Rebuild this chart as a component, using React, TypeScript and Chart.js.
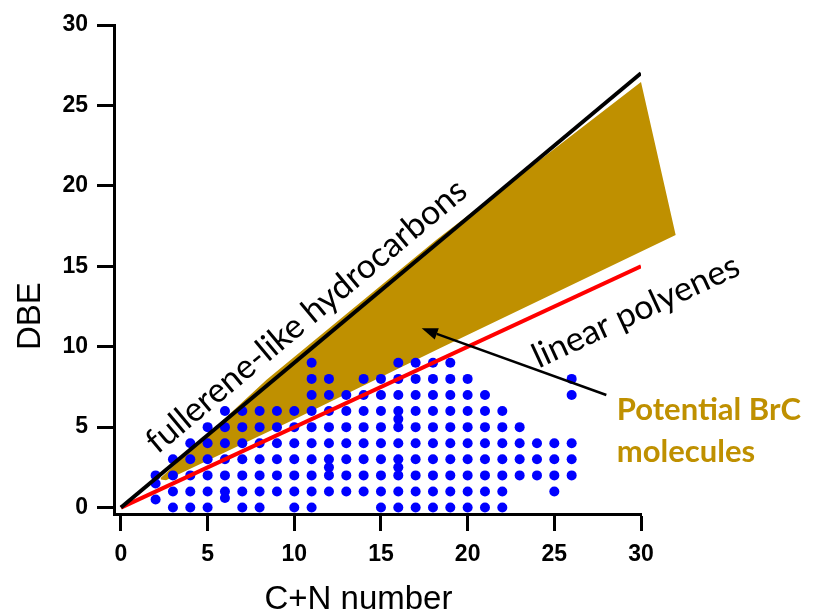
import React, { useEffect, useRef } from "react";
import { Chart, registerables } from "chart.js";

Chart.register(...registerables);

// ---- axes ----
const xTicks = [0, 5, 10, 15, 20, 25, 30];
const yTicks = [0, 5, 10, 15, 20, 25, 30];
const xTitle = "C+N number";
const yTitle = "DBE";
// axis-title centres, in data units along their axis
const xTitleAt = 13.7;
const yTitleAt = 11.9;

// ---- observed molecules: C+N numbers found at each DBE value ----
const dbe0 = [3, 4, 5, 7, 8, 10, 11, 15, 16, 17, 18, 19, 20, 21, 22];
const dbe1 = [3, 4, 5, 6, 7, 8, 9, 10, 11, 12, 13, 14, 15, 16, 17, 18, 19, 20, 21, 22, 25];
const dbe2 = [2, 3, 4, 5, 6, 7, 8, 9, 10, 11, 12, 13, 14, 15, 16, 17, 18, 19, 20, 21, 22, 23, 24, 25, 26];
const dbe3 = [3, 4, 5, 6, 7, 8, 9, 10, 11, 12, 13, 14, 15, 16, 17, 18, 19, 20, 21, 22, 23, 24, 25, 26];
const dbe4 = [4, 5, 6, 7, 8, 9, 10, 11, 12, 13, 14, 15, 16, 17, 18, 19, 20, 21, 22, 23, 24, 25, 26];
const dbe5 = [5, 6, 7, 8, 9, 10, 11, 12, 13, 14, 15, 16, 17, 18, 19, 20, 21, 22, 23];
const dbe6 = [6, 7, 8, 9, 10, 11, 12, 13, 14, 15, 16, 17, 18, 19, 20, 21, 22];
const dbe7 = [11, 12, 13, 14, 15, 16, 17, 18, 19, 20, 21, 26];
const dbe8 = [11, 12, 14, 15, 16, 17, 18, 19, 20, 26];
const dbe9 = [11, 16, 17, 18, 19];
const dbeRows = [dbe0, dbe1, dbe2, dbe3, dbe4, dbe5, dbe6, dbe7, dbe8, dbe9];
// non-integer DBE points
const extraC = [2, 2, 6, 12, 16, 16];
const extraD = [1.5, 0.5, 0.6, 2.5, 2.5, 5.5];

// ---- reference lines ----
const fullereneC = [0, 30];
const fullereneD = [0, 27];
const polyeneC = [0, 30];
const polyeneD = [0, 15];

// ---- shaded "potential BrC" region (polygon vertices) ----
const goldC = [2.3, 2.6, 8.4, 18.2, 30.0, 32.0, 18.4, 9.75, 2.6, 2.3];
const goldD = [1.85, 2.15, 7.95, 16.65, 26.45, 16.95, 9.9, 5.35, 1.7, 1.75];

// ---- annotations ----
const fullereneLabel = "fullerene-like hydrocarbons";
const fullereneLabelPos = [10.7, 11.9];
const polyeneLabel = "linear polyenes";
const polyeneLabelPos = [29.7, 12.2];
const brcLines = ["Potential BrC", "molecules"];
const brcPos = [28.6, 5.44];
const brcLineStep = 2.6;
const arrowTail = [28.0, 7.0];
const arrowTip = [17.35, 11.14];

const GOLD = "#BF9000";
const AXIS_FONT = '"Liberation Sans", Arial, sans-serif';
const NOTE_FONT = 'Lato, "Open Sans", sans-serif';

const overlayPlugin = {
  id: "overlay",
  beforeDatasetsDraw(chart: any) {
    const { ctx, scales } = chart;
    const x = scales.x;
    const y = scales.y;
    ctx.save();
    ctx.beginPath();
    goldC.forEach((c, i) => {
      const px = x.getPixelForValue(c);
      const py = y.getPixelForValue(goldD[i]);
      if (i === 0) ctx.moveTo(px, py);
      else ctx.lineTo(px, py);
    });
    ctx.closePath();
    ctx.fillStyle = GOLD;
    ctx.fill();
    ctx.restore();
  },
  afterDatasetsDraw(chart: any) {
    const { ctx, scales } = chart;
    const x = scales.x;
    const y = scales.y;
    const angleOf = (cs: number[], ds: number[]) =>
      Math.atan2(
        y.getPixelForValue(ds[1]) - y.getPixelForValue(ds[0]),
        x.getPixelForValue(cs[1]) - x.getPixelForValue(cs[0])
      );
    const rotated = (text: string, pos: number[], angle: number, font: string) => {
      ctx.save();
      ctx.translate(x.getPixelForValue(pos[0]), y.getPixelForValue(pos[1]));
      ctx.rotate(angle);
      ctx.font = font;
      ctx.fillStyle = "#000";
      ctx.textAlign = "center";
      ctx.textBaseline = "middle";
      ctx.fillText(text, 0, 0);
      ctx.restore();
    };
    rotated(fullereneLabel, fullereneLabelPos, angleOf(fullereneC, fullereneD), `34px ${NOTE_FONT}`);
    rotated(polyeneLabel, polyeneLabelPos, angleOf(polyeneC, polyeneD), `34px ${NOTE_FONT}`);

    // BrC label
    ctx.save();
    ctx.font = `bold 31px ${NOTE_FONT}`;
    ctx.fillStyle = GOLD;
    ctx.textAlign = "left";
    ctx.textBaseline = "alphabetic";
    brcLines.forEach((t, i) => {
      ctx.fillText(t, x.getPixelForValue(brcPos[0]), y.getPixelForValue(brcPos[1] - i * brcLineStep));
    });
    ctx.restore();

    // arrow
    const tx = x.getPixelForValue(arrowTail[0]);
    const ty = y.getPixelForValue(arrowTail[1]);
    const hx = x.getPixelForValue(arrowTip[0]);
    const hy = y.getPixelForValue(arrowTip[1]);
    const a = Math.atan2(hy - ty, hx - tx);
    const headLen = 16;
    const headHalf = 6;
    const bx = hx - headLen * Math.cos(a);
    const by = hy - headLen * Math.sin(a);
    ctx.save();
    ctx.strokeStyle = "#000";
    ctx.fillStyle = "#000";
    ctx.lineWidth = 2.5;
    ctx.beginPath();
    ctx.moveTo(tx, ty);
    ctx.lineTo(bx, by);
    ctx.stroke();
    ctx.beginPath();
    ctx.moveTo(hx, hy);
    ctx.lineTo(bx + headHalf * Math.sin(a), by - headHalf * Math.cos(a));
    ctx.lineTo(bx - headHalf * Math.sin(a), by + headHalf * Math.cos(a));
    ctx.closePath();
    ctx.fill();
    ctx.restore();
  },
  afterDraw(chart: any) {
    const { ctx, scales } = chart;
    const x = scales.x;
    const y = scales.y;
    ctx.save();
    ctx.font = `33px ${AXIS_FONT}`;
    ctx.fillStyle = "#000";
    ctx.textAlign = "center";
    ctx.textBaseline = "alphabetic";
    // x title
    ctx.fillText(xTitle, x.getPixelForValue(xTitleAt), x.bottom - 4);
    // y title (rotated)
    ctx.translate(y.left + 32, y.getPixelForValue(yTitleAt));
    ctx.rotate(-Math.PI / 2);
    ctx.fillText(yTitle, 0, 0);
    ctx.restore();
  },
};

export default function App() {
  const canvasRef = useRef<HTMLCanvasElement | null>(null);

  useEffect(() => {
    const canvas = canvasRef.current;
    if (!canvas) return;

    const dots: { x: number; y: number }[] = [];
    dbeRows.forEach((row, d) => row.forEach((c) => dots.push({ x: c, y: d })));
    extraC.forEach((c, i) => dots.push({ x: c, y: extraD[i] }));

    const toPts = (cs: number[], ds: number[]) => cs.map((c, i) => ({ x: c, y: ds[i] }));

    const chart = new Chart(canvas, {
      type: "scatter",
      data: {
        datasets: [
          {
            label: "fullerene-like hydrocarbons",
            data: toPts(fullereneC, fullereneD),
            showLine: true,
            borderColor: "#000000",
            borderWidth: 4,
            pointRadius: 0,
            order: 1,
          },
          {
            label: "linear polyenes",
            data: toPts(polyeneC, polyeneD),
            showLine: true,
            borderColor: "#FF0000",
            borderWidth: 4,
            pointRadius: 0,
            order: 2,
          },
          {
            label: "molecules",
            data: dots,
            backgroundColor: "#0000FF",
            borderWidth: 0,
            pointRadius: 5,
            order: 3,
          },
        ] as any,
      },
      options: {
        responsive: false,
        animation: false,
        devicePixelRatio: 1,
        layout: { padding: { left: 8, right: 179, top: 25, bottom: 2 } },
        plugins: { legend: { display: false }, tooltip: { enabled: false } },
        scales: {
          x: {
            type: "linear",
            min: -0.4,
            max: 30,
            afterBuildTicks: (s: any) => {
              s.ticks = xTicks.map((v) => ({ value: v }));
            },
            afterFit: (s: any) => {
              s.height = 99;
            },
            grid: {
              drawOnChartArea: false,
              drawTicks: true,
              tickLength: 17,
              tickWidth: 3,
              tickColor: "#000",
            },
            border: { display: true, width: 3, color: "#000" },
            ticks: {
              color: "#000",
              padding: 10,
              maxRotation: 0,
              autoSkip: false,
              font: { family: AXIS_FONT, size: 23, weight: "bold", lineHeight: 1.2 },
            },
            title: { display: false },
          },
          y: {
            type: "linear",
            min: -0.4,
            max: 30,
            afterBuildTicks: (s: any) => {
              s.ticks = yTicks.map((v) => ({ value: v }));
            },
            afterFit: (s: any) => {
              s.width = 106;
            },
            grid: {
              drawOnChartArea: false,
              drawTicks: true,
              tickLength: 17,
              tickWidth: 3,
              tickColor: "#000",
            },
            border: { display: true, width: 3, color: "#000" },
            ticks: {
              color: "#000",
              padding: 9,
              autoSkip: false,
              font: { family: AXIS_FONT, size: 23, weight: "bold", lineHeight: 1.2 },
            },
            title: { display: false },
          },
        },
      } as any,
      plugins: [overlayPlugin],
    });

    return () => chart.destroy();
  }, []);

  return (
    <div style={{ position: "fixed", left: 0, top: 0, width: 820, height: 615, background: "#fff" }}>
      <canvas ref={canvasRef} width={820} height={615} style={{ display: "block" }} />
    </div>
  );
}
